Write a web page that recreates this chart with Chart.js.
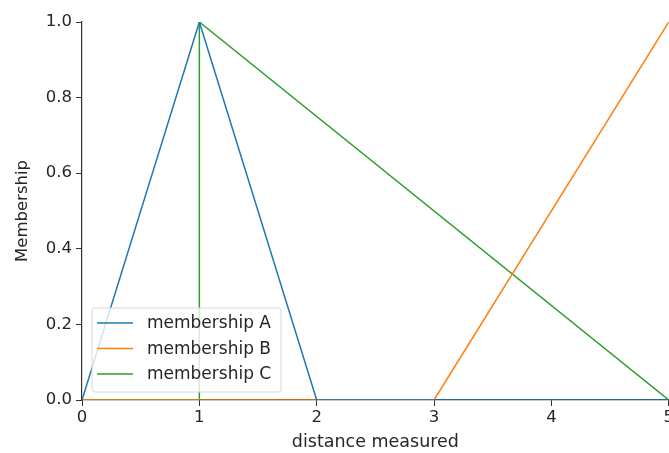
<!DOCTYPE html>
<html>
<head>
<meta charset="utf-8">
<script src="https://cdn.jsdelivr.net/npm/chart.js@4/dist/chart.umd.min.js"></script>
<style>
  html, body { margin: 0; padding: 0; background: #fff; overflow: hidden; }
  #wrap { width: 669px; height: 453px; overflow: hidden; }
  #box { width: 676px; height: 453px; }
</style>
</head>
<body>
<div id="wrap"><div id="box"><canvas id="chart"></canvas></div></div>
<script>
// membership functions, breakpoints
const labels = ['membership A', 'membership B', 'membership C'];
const xA = [0, 1, 2, 5];
const yA = [0, 1, 0, 0];
const xB = [0, 3, 5];
const yB = [0, 0, 1];
const xC = [0, 1, 1, 5];
const yC = [0, 0, 1, 0];
const xTicks = [0, 1, 2, 3, 4, 5];
const yTicks = [0, 0.2, 0.4, 0.6, 0.8, 1.0];
const colors = ['#1f77b4', '#ff7f0e', '#2ca02c'];

function pts(xs, ys) {
    return xs.map((x, i) => ({ x: x, y: ys[i] }));
}

const FONT = "'DejaVu Sans', sans-serif";

// legend box drawn inside the plot, lower left, like matplotlib
const boxLegend = {
    id: 'boxLegend',
    afterDatasetsDraw(chart) {
        const ctx = chart.ctx;
        const area = chart.chartArea;
        const w = 189, h = 84;
        const x0 = area.left + 10, y0 = area.bottom - 8 - h;
        ctx.save();
        ctx.beginPath();
        ctx.roundRect(x0, y0, w, h, 3);
        ctx.fillStyle = 'rgba(255,255,255,0.8)';
        ctx.fill();
        ctx.strokeStyle = '#d8d8d8';
        ctx.lineWidth = 1;
        ctx.stroke();
        ctx.font = '17px ' + FONT;
        ctx.textBaseline = 'middle';
        labels.forEach((lab, i) => {
            const y = y0 + 15 + i * 25.5;
            ctx.strokeStyle = colors[i];
            ctx.lineWidth = 1.5;
            ctx.beginPath();
            ctx.moveTo(x0 + 5, y);
            ctx.lineTo(x0 + 41, y);
            ctx.stroke();
            ctx.fillStyle = '#262626';
            ctx.fillText(lab, x0 + 55, y + 1);
        });
        ctx.restore();
    }
};

const datasets = [
    { label: labels[0], data: pts(xA, yA) },
    { label: labels[1], data: pts(xB, yB) },
    { label: labels[2], data: pts(xC, yC) }
].map((d, i) => Object.assign(d, {
    borderColor: colors[i],
    backgroundColor: colors[i],
    borderWidth: 1.5,
    pointRadius: 0,
    tension: 0,
    fill: false
}));

const ctx = document.getElementById('chart').getContext('2d');
new Chart(ctx, {
    type: 'line',
    data: { datasets: datasets },
    plugins: [boxLegend],
    options: {
        responsive: true,
        maintainAspectRatio: false,
        animation: false,
        layout: { padding: { top: 22, left: 13, right: 0, bottom: 0 } },
        plugins: {
            legend: { display: false },
            tooltip: { enabled: false }
        },
        scales: {
            x: {
                type: 'linear',
                min: 0,
                max: 5,
                afterBuildTicks: (s) => { s.ticks = xTicks.map(v => ({ value: v })); },
                afterFit: (s) => { s.height = 53; },
                ticks: {
                    color: '#262626',
                    font: { family: FONT, size: 16.5 },
                    padding: 2,
                    maxRotation: 0,
                    callback: v => String(v)
                },
                grid: { drawOnChartArea: false, drawTicks: true, tickLength: 6, color: '#333' },
                border: { display: true, color: '#333', width: 1.2 },
                title: {
                    display: true,
                    text: 'distance measured',
                    color: '#262626',
                    font: { family: FONT, size: 17.5 },
                    padding: { top: 1, bottom: 0 }
                }
            },
            y: {
                min: 0,
                max: 1,
                afterBuildTicks: (s) => { s.ticks = yTicks.map(v => ({ value: v })); },
                afterFit: (s) => { s.width = 69; },
                ticks: {
                    color: '#262626',
                    font: { family: FONT, size: 16.5 },
                    padding: 4,
                    callback: v => v.toFixed(1)
                },
                grid: { drawOnChartArea: false, drawTicks: true, tickLength: 6, color: '#333' },
                border: { display: true, color: '#333', width: 1.2 },
                title: {
                    display: true,
                    text: 'Membership',
                    color: '#262626',
                    font: { family: FONT, size: 16.5 },
                    padding: { top: 0, bottom: 4 }
                }
            }
        }
    }
});
</script>
</body>
</html>
